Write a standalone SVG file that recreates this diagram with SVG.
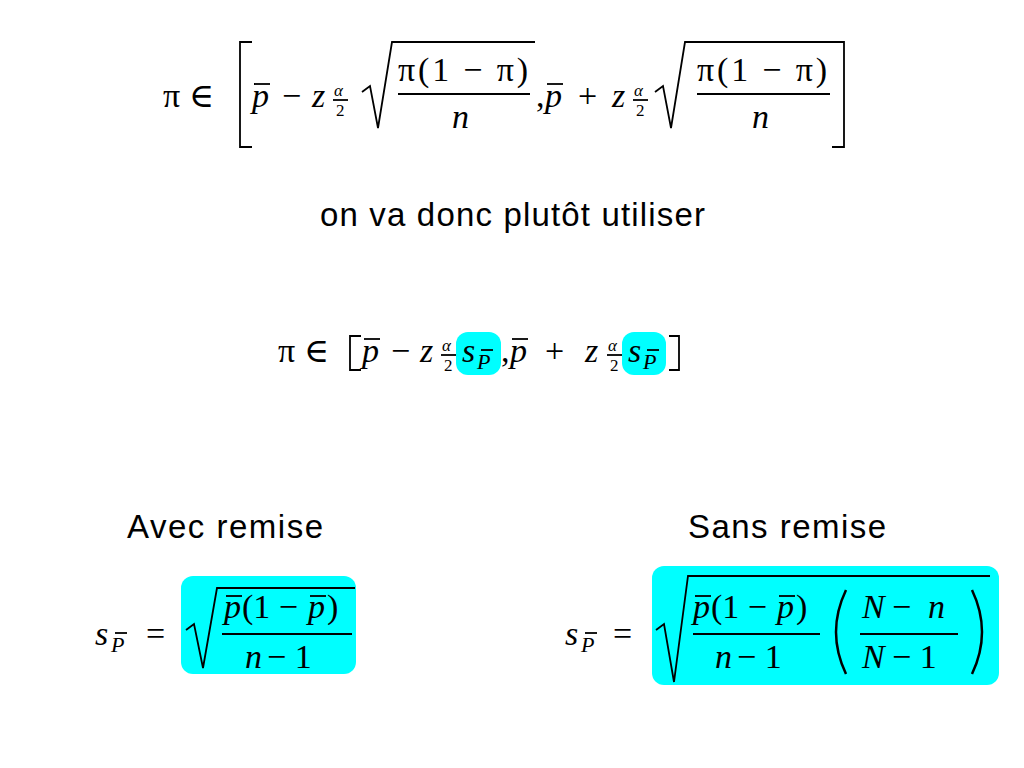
<svg xmlns="http://www.w3.org/2000/svg" width="1024" height="768" viewBox="0 0 1024 768">
<style>
.m{font-family:"Liberation Serif","DejaVu Serif",serif;font-size:34px;fill:#000}
.i{font-style:italic}
.s{font-size:17px}
.t{font-family:"Liberation Sans",Arial,sans-serif;font-size:33px;fill:#000}
.ln{stroke:#000;stroke-width:1.8;fill:none}
.hl{fill:#00ffff}
</style>
<rect width="1024" height="768" fill="#fff"/>
<g id="formula1">
<text class="m" x="163" y="107">π ∈</text>
<path class="ln" d="M252,42 H240 V147 H252"/>
<text class="m i" x="252" y="107">p</text><line class="ln" x1="254" y1="84" x2="270" y2="84"/>
<text class="m" x="282" y="107">−</text>
<text class="m i" x="312" y="107">z</text>
<text class="m i s" x="334" y="96">α</text><line class="ln" x1="333" y1="100" x2="348" y2="100" stroke-width="1"/><text class="m s" x="336" y="116">2</text>
<path class="ln" d="M362,92 L370,86 L378,128 L392,42 H535"/>
<text class="m" x="398" y="81" textLength="130">π(1 − π)</text><line class="ln" x1="398" y1="94" x2="530" y2="94"/>
<text class="m i" x="452" y="128">n</text>
<text class="m" x="536" y="107">,</text>
<text class="m i" x="545" y="107">p</text><line class="ln" x1="547" y1="84" x2="563" y2="84"/>
<text class="m" x="578" y="107">+</text>
<text class="m i" x="612" y="107">z</text>
<text class="m i s" x="634" y="96">α</text><line class="ln" x1="633" y1="100" x2="648" y2="100" stroke-width="1"/><text class="m s" x="636" y="116">2</text>
<path class="ln" d="M655,92 L663,86 L671,128 L685,42 H835"/>
<text class="m" x="697" y="81" textLength="130">π(1 − π)</text><line class="ln" x1="697" y1="94" x2="830" y2="94"/>
<text class="m i" x="752" y="128">n</text>
<path class="ln" d="M832,42 H844 V147 H832"/>
</g>
<g id="text1"><text class="t" x="320" y="226" textLength="385">on va donc plutôt utiliser</text></g>
<g id="formula2">
<rect class="hl" x="456" y="332" width="45" height="43" rx="12"/>
<rect class="hl" x="622" y="332" width="44" height="43" rx="12"/>
<text class="m" x="278" y="362">π ∈</text>
<path class="ln" d="M361,336 H350 V370 H361"/>
<text class="m i" x="362" y="362">p</text><line class="ln" x1="364" y1="339" x2="380" y2="339"/>
<text class="m" x="391" y="362">−</text>
<text class="m i" x="420" y="362">z</text>
<text class="m i s" x="442" y="351">α</text><line class="ln" x1="441" y1="355" x2="456" y2="355" stroke-width="1"/><text class="m s" x="444" y="371">2</text>
<text class="m i" x="462" y="362">s</text><text class="m i" style="font-size:22px" x="477" y="369">P</text><line class="ln" x1="481" y1="350" x2="493" y2="350" stroke-width="1.3"/>
<text class="m" x="501" y="362">,</text>
<text class="m i" x="510" y="362">p</text><line class="ln" x1="512" y1="339" x2="528" y2="339"/>
<text class="m" x="545" y="362">+</text>
<text class="m i" x="585" y="362">z</text>
<text class="m i s" x="608" y="351">α</text><line class="ln" x1="607" y1="355" x2="622" y2="355" stroke-width="1"/><text class="m s" x="610" y="371">2</text>
<text class="m i" x="628" y="362">s</text><text class="m i" style="font-size:22px" x="643" y="369">P</text><line class="ln" x1="647" y1="350" x2="659" y2="350" stroke-width="1.3"/>
<path class="ln" d="M669,336 H679 V370 H669"/>
</g>
<g id="label-avec"><text class="t" x="127" y="538" textLength="196">Avec remise</text></g>
<g id="label-sans"><text class="t" x="688" y="538" textLength="198">Sans remise</text></g>
<g id="formula-avec">
<rect class="hl" x="181" y="576" width="175" height="98" rx="12"/>
<text class="m i" x="95" y="645">s</text><text class="m i" style="font-size:22px" x="111" y="652">P</text><line class="ln" x1="115" y1="633" x2="127" y2="633" stroke-width="1.3"/>
<text class="m" x="146" y="645">=</text>
<path class="ln" d="M186,630 L194,624 L203,668 L217,588 H355"/>
<text class="m i" x="224" y="618">p</text><line class="ln" x1="226" y1="596" x2="242" y2="596"/>
<text class="m" x="242" y="618">(1 −</text><text class="m i" x="308" y="618">p</text><line class="ln" x1="310" y1="596" x2="326" y2="596"/><text class="m" x="327" y="618">)</text>
<line class="ln" x1="222" y1="634" x2="352" y2="634"/>
<text class="m i" x="245" y="668">n</text><text class="m" x="267" y="668">− 1</text>
</g>
<g id="formula-sans">
<rect class="hl" x="652" y="566" width="347" height="119" rx="12"/>
<text class="m i" x="565" y="645">s</text><text class="m i" style="font-size:22px" x="581" y="652">P</text><line class="ln" x1="585" y1="633" x2="597" y2="633" stroke-width="1.3"/>
<text class="m" x="613" y="645">=</text>
<path class="ln" d="M656,630 L664,624 L674,682 L688,576 H990"/>
<text class="m i" x="693" y="618">p</text><line class="ln" x1="695" y1="596" x2="711" y2="596"/>
<text class="m" x="711" y="618">(1 −</text><text class="m i" x="777" y="618">p</text><line class="ln" x1="779" y1="596" x2="795" y2="596"/><text class="m" x="796" y="618">)</text>
<line class="ln" x1="693" y1="634" x2="820" y2="634"/>
<text class="m i" x="715" y="668">n</text><text class="m" x="737" y="668">− 1</text>
<path d="M846,590 Q826,632 846,674" stroke="#000" stroke-width="2.5" fill="none"/>
<text class="m i" x="862" y="618">N</text><text class="m" x="892" y="618">−</text><text class="m i" x="928" y="618">n</text>
<line class="ln" x1="860" y1="634" x2="958" y2="634"/>
<text class="m i" x="862" y="668">N</text><text class="m" x="892" y="668">− 1</text>
<path d="M972,590 Q992,632 972,674" stroke="#000" stroke-width="2.5" fill="none"/>
</g>
<g id="connectors"/>
</svg>
